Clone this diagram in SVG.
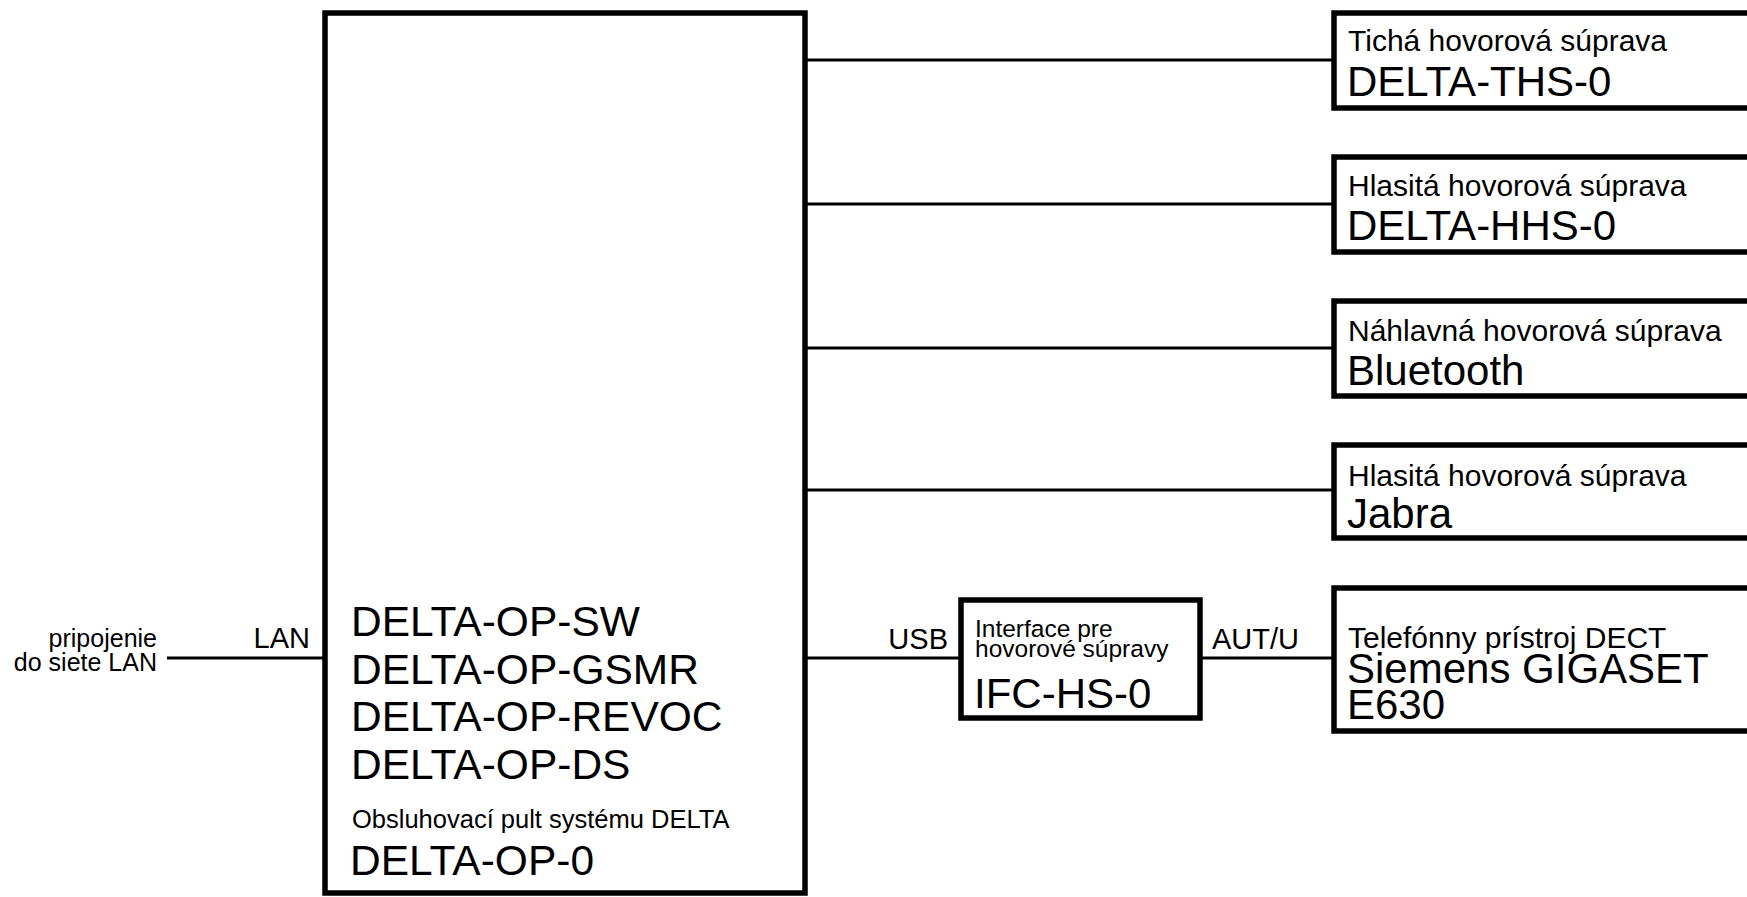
<svg xmlns="http://www.w3.org/2000/svg" width="1747" height="897" viewBox="0 0 1747 897">
<style>
.box{fill:#fff;stroke:#000;stroke-width:5.5}
.ln{stroke:#000;stroke-width:3;fill:none}
text{font-family:"Liberation Sans",Arial,sans-serif;fill:#000}
.big{font-size:42px}
.opbig{font-size:42.5px}
.mid{font-size:30px}
.sm{font-size:25px}
.lbl{font-size:29px}
.ifcs{font-size:24.5px}
</style>
<rect width="1747" height="897" fill="#fff"/>
<g id="connectors">
<line class="ln" x1="167" y1="658" x2="325" y2="658"/>
<line class="ln" x1="805" y1="60" x2="1334" y2="60"/>
<line class="ln" x1="805" y1="204" x2="1334" y2="204"/>
<line class="ln" x1="805" y1="348" x2="1334" y2="348"/>
<line class="ln" x1="805" y1="490" x2="1334" y2="490"/>
<line class="ln" x1="805" y1="658" x2="961" y2="658"/>
<line class="ln" x1="1200" y1="658" x2="1334" y2="658"/>
<text class="sm" x="157" y="647" text-anchor="end">pripojenie</text>
<text class="sm" x="157" y="671" text-anchor="end">do siete LAN</text>
<text class="lbl" x="310" y="648" text-anchor="end">LAN</text>
<text class="lbl" x="948" y="649" text-anchor="end">USB</text>
<text class="lbl" x="1212" y="649">AUT/U</text>
</g>
<g id="op">
<rect class="box" x="325" y="13" width="480" height="880"/>
<text class="opbig" x="351" y="636">DELTA-OP-SW</text>
<text class="opbig" x="351" y="684">DELTA-OP-GSMR</text>
<text class="opbig" x="351" y="731">DELTA-OP-REVOC</text>
<text class="opbig" x="351" y="779">DELTA-OP-DS</text>
<text x="352" y="828" style="font-size:25.5px">Obsluhovací pult systému DELTA</text>
<text class="opbig" x="350" y="875">DELTA-OP-0</text>
</g>
<g id="ifc">
<rect class="box" x="961" y="600" width="239" height="118"/>
<text class="ifcs" x="975" y="637">Interface pre</text>
<text class="ifcs" x="975" y="657">hovorové súpravy</text>
<text class="big" x="974" y="708">IFC-HS-0</text>
</g>
<g id="ths">
<rect class="box" x="1334" y="13" width="430" height="95"/>
<text class="mid" x="1348" y="51">Tichá hovorová súprava</text>
<text class="big" x="1347" y="96">DELTA-THS-0</text>
</g>
<g id="hhs">
<rect class="box" x="1334" y="157" width="430" height="95"/>
<text class="mid" x="1348" y="196">Hlasitá hovorová súprava</text>
<text class="big" x="1347" y="240">DELTA-HHS-0</text>
</g>
<g id="bt">
<rect class="box" x="1334" y="301" width="430" height="95"/>
<text class="mid" x="1348" y="341">Náhlavná hovorová súprava</text>
<text class="big" x="1347" y="385">Bluetooth</text>
</g>
<g id="jabra">
<rect class="box" x="1334" y="445" width="430" height="93"/>
<text class="mid" x="1348" y="486">Hlasitá hovorová súprava</text>
<text class="big" x="1347" y="528">Jabra</text>
</g>
<g id="dect">
<rect class="box" x="1334" y="588" width="430" height="143"/>
<text class="mid" x="1348" y="648">Telefónny prístroj DECT</text>
<text class="big" x="1347" y="683">Siemens GIGASET</text>
<text class="big" x="1347" y="719">E630</text>
</g>
</svg>
